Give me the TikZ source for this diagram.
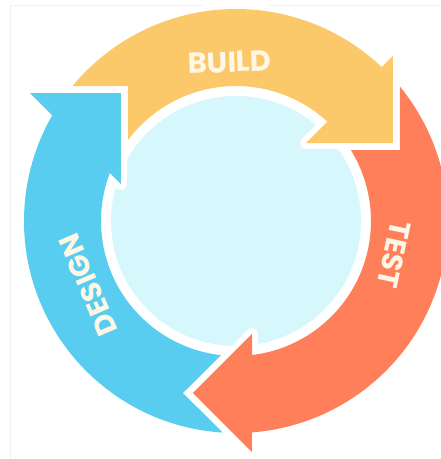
\documentclass[tikz,border=0pt]{standalone}
\usepackage{fontspec}
\setmainfont{Poppins}
\definecolor{buildyellow}{HTML}{FCC96A}
\definecolor{testorange}{HTML}{FF7F5B}
\definecolor{designblue}{HTML}{59CDEF}
\definecolor{corecyan}{HTML}{D6F7FC}
\definecolor{chalk}{HTML}{FFF7E6}
\tikzset{
  stage/.style={preaction={draw=white, line width=12pt, line join=round}},
  word/.style={text=chalk, font=\fontsize{29}{30}\selectfont\bfseries, inner sep=0pt}
}

\begin{document}
\begin{tikzpicture}[x=1pt, y=1pt]
  \useasboundingbox (-236,-238) rectangle (205,221);
  \draw[gray!12] (-226,-238) -- (-226,216) -- (205,216);
  \fill[corecyan] (0,0) circle (125);
  % build
  \fill[buildyellow, stage] (140.45:212) arc[start angle=140.45, end angle=46.53, radius=212]
    -- (157,165) -- (157,78) -- (70,78) -- (47.4:135)
    arc[start angle=47.4, end angle=143.13, radius=135] -- (-108,135) -- cycle;
  % test
  \fill[testorange, stage] (39.32:212) arc[start angle=39.32, end angle=-85.67, radius=212]
    -- (16,-231) -- (-43,-172) -- (16,-113) -- (-83.18:135)
    arc[start angle=-83.18, end angle=31.73, radius=135] -- (164,71) -- cycle;
  % design
  \fill[designblue, stage] (266.37:212) arc[start angle=266.37, end angle=150.08, radius=212]
    -- (-206,128) -- (-115,128) -- (-115,37) -- (159.12:135)
    arc[start angle=159.12, end angle=263.56, radius=135] -- (-53,-172) -- cycle;
  \node[word, rotate=2.2] (build) at (92.2:159) {BUILD};
  \node[word, rotate=-102] (test) at (-12:162) {TEST};
  \node[word, rotate=113.4] (design) at (203.4:161) {DESIGN};
\end{tikzpicture}
\end{document}
